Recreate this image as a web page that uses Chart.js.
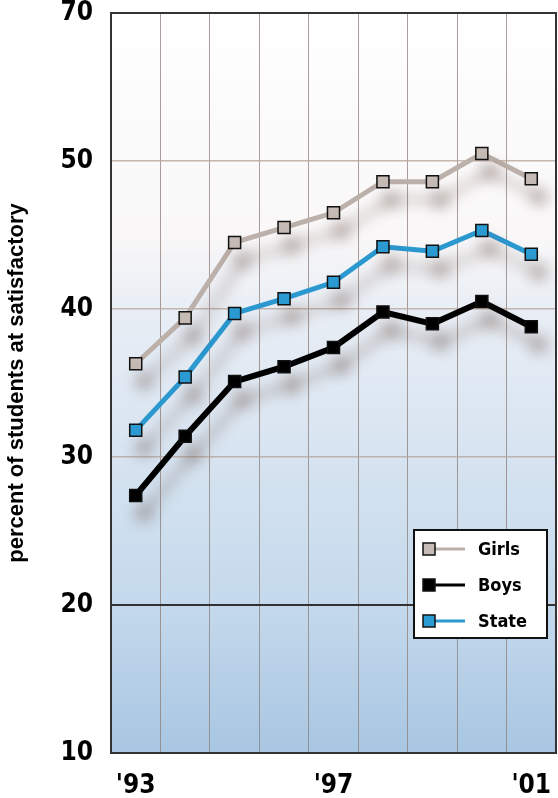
<!DOCTYPE html>
<html>
<head>
<meta charset="utf-8">
<script src="https://cdn.jsdelivr.net/npm/chart.js@4.4.1/dist/chart.umd.min.js"></script>
<style>
  body { margin: 0; background: #fff; }
  #wrap { width: 558px; height: 798px; }
</style>
</head>
<body>
<div id="wrap"><canvas id="satChart" width="558" height="798"></canvas></div>
<script>
const years = ["'93", "'94", "'95", "'96", "'97", "'98", "'99", "'00", "'01"];
const shownYears = ["'93", "'97", "'01"];
const girls = [36.3, 39.4, 44.5, 45.5, 46.5, 48.6, 48.6, 50.5, 48.8];
const boys = [27.4, 31.4, 35.1, 36.1, 37.4, 39.8, 39.0, 40.5, 38.8];
const state = [31.8, 35.4, 39.7, 40.7, 41.8, 44.2, 43.9, 45.3, 43.7];
// the top line of the original is labelled 70 though it sits at 60
const yTickValues = [10, 20, 30, 40, 50, 60];
const yTickLabels = ["10", "20", "30", "40", "50", "70"];

const heavyFont = "'DejaVu Sans Condensed', 'DejaVu Sans', sans-serif";

const bgPlugin = {
    id: 'plotBackground',
    beforeDraw(chart) {
        let { ctx, chartArea: a } = chart;
        let g = ctx.createLinearGradient(0, a.top, 0, a.bottom);
        g.addColorStop(0, '#ffffff');
        g.addColorStop(0.3, '#f9f7f8');
        g.addColorStop(0.4, '#e9eef5');
        g.addColorStop(0.8, '#c4d9ec');
        g.addColorStop(1, '#a8c6e2');
        ctx.save();
        ctx.fillStyle = g;
        ctx.fillRect(a.left, a.top, a.right - a.left, a.bottom - a.top);
        ctx.restore();
    },
    afterDraw(chart) {
        let { ctx, chartArea: a } = chart;
        ctx.save();
        ctx.strokeStyle = '#333';
        ctx.lineWidth = 2;
        ctx.strokeRect(a.left, a.top, a.right - a.left, a.bottom - a.top);
        ctx.restore();
    }
};

const shadowPlugin = {
    id: 'lineShadow',
    beforeDatasetsDraw(chart) {
        let ctx = chart.ctx;
        ctx.save();
        ctx.shadowColor = 'rgba(120, 100, 90, 0.45)';
        ctx.shadowBlur = 14;
        ctx.shadowOffsetX = 8;
        ctx.shadowOffsetY = 18;
    },
    afterDatasetsDraw(chart) {
        chart.ctx.restore();
    }
};

const legendPlugin = {
    id: 'boxLegend',
    afterDraw(chart) {
        let ctx = chart.ctx;
        let x = 414, y = 530, w = 133, h = 108;
        ctx.save();
        ctx.fillStyle = '#fff';
        ctx.fillRect(x, y, w, h);
        ctx.strokeStyle = '#111';
        ctx.lineWidth = 2;
        ctx.strokeRect(x, y, w, h);
        [0, 1, 2].forEach((di, i) => {
            let ds = chart.data.datasets[di];
            let cy = y + 19 + i * 36;
            ctx.strokeStyle = ds.borderColor;
            ctx.lineWidth = 3;
            ctx.beginPath();
            ctx.moveTo(x + 14, cy);
            ctx.lineTo(x + 51, cy);
            ctx.stroke();
            ctx.fillStyle = ds.pointBackgroundColor;
            ctx.fillRect(x + 9, cy - 6, 12, 12);
            ctx.strokeStyle = '#111';
            ctx.lineWidth = 1.5;
            ctx.strokeRect(x + 9, cy - 6, 12, 12);
            ctx.fillStyle = '#000';
            ctx.font = "bold 18px " + heavyFont;
            ctx.textBaseline = 'middle';
            ctx.fillText(ds.label, x + 64, cy + 1);
        });
        ctx.restore();
    }
};

function makeSet(label, data, lineColor, pointColor, width) {
    return {
        label: label,
        data: data,
        borderColor: lineColor,
        borderWidth: width,
        pointStyle: 'rect',
        pointRadius: 8.5,
        pointHoverRadius: 8.5,
        pointBackgroundColor: pointColor,
        pointBorderColor: '#111',
        pointBorderWidth: 1.5,
        tension: 0,
        fill: false
    };
}

let ctx = document.getElementById('satChart').getContext('2d');
let chart = new Chart(ctx, {
    type: 'line',
    data: {
        labels: years,
        datasets: [
            makeSet('Girls', girls, '#bcb0aa', '#c6bbb5', 5),
            makeSet('Boys', boys, '#000000', '#000000', 6),
            makeSet('State', state, '#2b98cf', '#2b9bd3', 5)
        ]
    },
    options: {
        responsive: false,
        animation: false,
        layout: { autoPadding: false, padding: { left: 4, right: 2, top: 13, bottom: 2 } },
        plugins: {
            legend: { display: false },
            tooltip: { enabled: false }
        },
        scales: {
            x: {
                offset: true,
                afterFit: function (scale) {
                    scale.height = 43;
                    scale.paddingLeft = 0;
                    scale.paddingRight = 0;
                },
                grid: { offset: true, color: 'rgba(140,125,120,0.75)', lineWidth: 1, drawTicks: false },
                border: { display: false },
                ticks: {
                    autoSkip: false,
                    maxRotation: 0,
                    padding: 18,
                    color: '#000',
                    font: { family: heavyFont, size: 26, weight: 'bold' },
                    callback: function (v, i) {
                        let lab = years[i];
                        return shownYears.includes(lab) ? lab : '';
                    }
                }
            },
            y: {
                min: 10,
                max: 60,
                afterBuildTicks: function (scale) {
                    scale.ticks = yTickValues.map(v => ({ value: v }));
                },
                afterFit: function (scale) {
                    scale.width = 107;
                    scale.paddingTop = 0;
                    scale.paddingBottom = 0;
                },
                grid: {
                    drawTicks: false,
                    lineWidth: ctx => ctx.tick && ctx.tick.value === 20 ? 2 : 1.5,
                    color: ctx => ctx.tick && ctx.tick.value === 20 ? '#333' : 'rgba(185,165,158,0.8)'
                },
                border: { display: false },
                ticks: {
                    padding: 18,
                    color: '#000',
                    font: { family: heavyFont, size: 26, weight: 'bold' },
                    callback: function (v) {
                        let i = yTickValues.indexOf(v);
                        return i >= 0 ? yTickLabels[i] : '';
                    }
                },
                title: {
                    display: true,
                    text: 'percent of students at satisfactory',
                    color: '#000',
                    padding: { top: 0, bottom: 16 },
                    font: { family: "'Liberation Sans', Arial, sans-serif", size: 22, weight: 'bold' }
                }
            }
        }
    },
    plugins: [bgPlugin, shadowPlugin, legendPlugin]
});
</script>
</body>
</html>
